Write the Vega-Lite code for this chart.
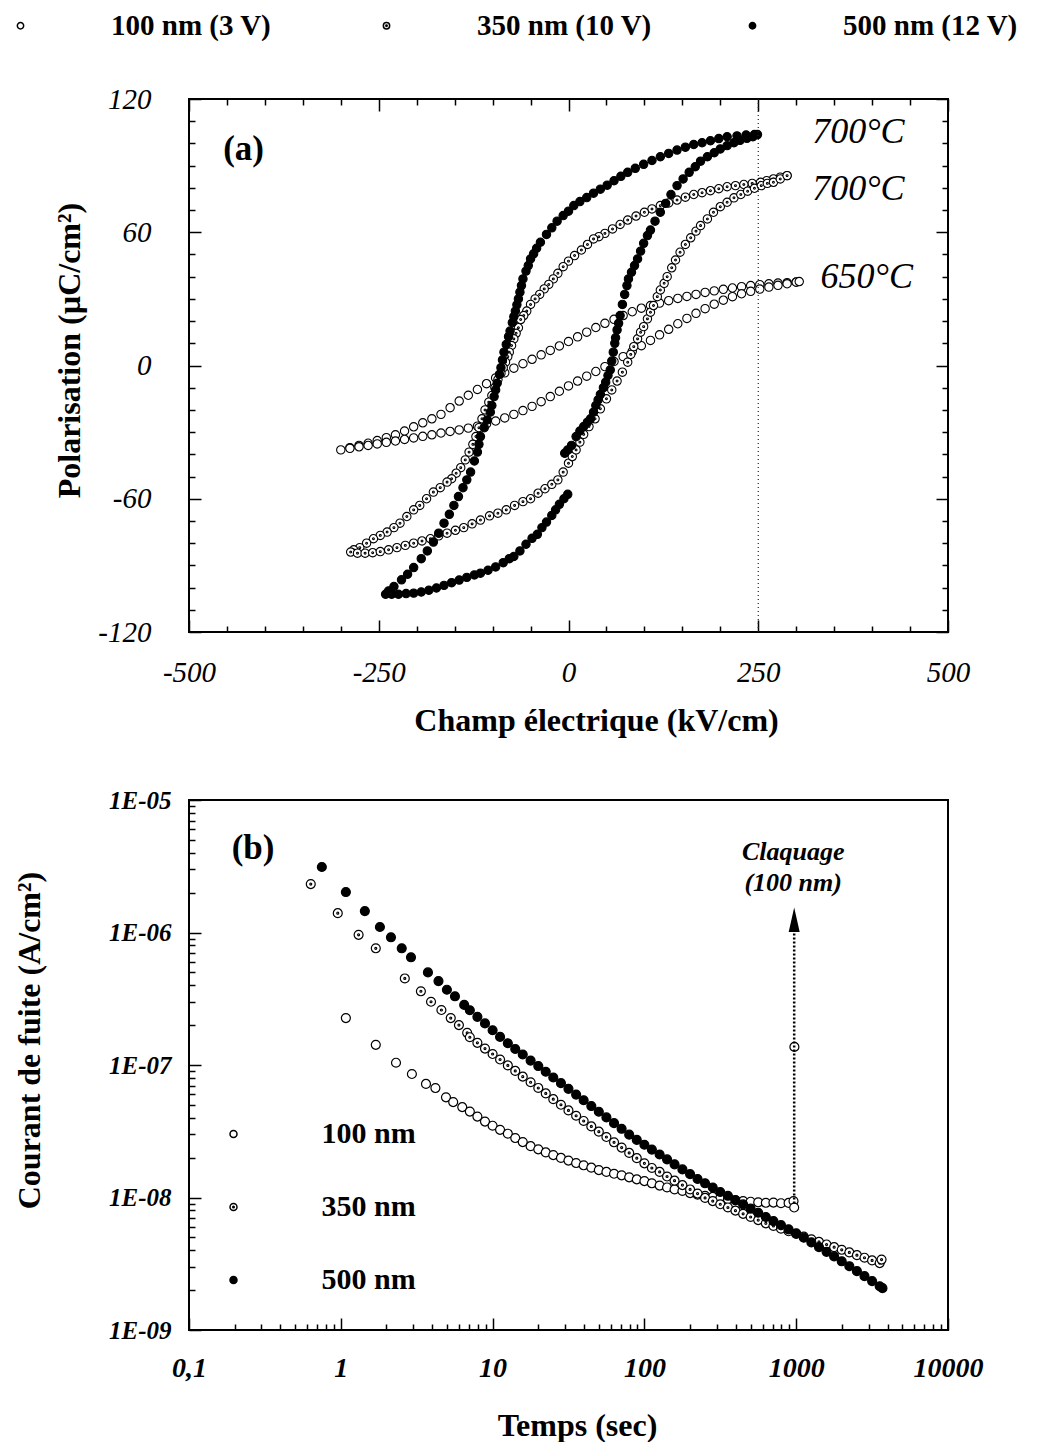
{
  "$schema": "https://vega.github.io/schema/vega-lite/v6.json",
  "background": "white",
  "padding": {"left": 5, "top": 10, "right": 0, "bottom": 0},
  "bounds": "flush",
  "spacing": 168,
  "config": {
    "font": "Liberation Serif",
    "view": {"stroke": "black", "strokeWidth": 2},
    "axis": {"grid": false, "domain": false, "tickColor": "black", "tickWidth": 1.5, "labelColor": "black", "titleColor": "black", "labelFont": "Liberation Serif", "titleFont": "Liberation Serif", "labelFlush": false, "labelOverlap": false}
  },
  "resolve": {"scale": {"fill": "independent", "shape": "independent"}, "legend": {"fill": "independent", "shape": "independent"}},
  "vconcat": [
    {
      "width": 759,
      "height": 533,
      "resolve": {"axis": {"x": "independent", "y": "independent"}},
      "layer": [
        {
          "data": {"values": [
            {"s":"100 nm (3 V)","E":300,"P":37.6},{"s":"100 nm (3 V)","E":288,"P":37.3},{"s":"100 nm (3 V)","E":276,"P":37.1},{"s":"100 nm (3 V)","E":264,"P":36.8},{"s":"100 nm (3 V)","E":252,"P":36.4},{"s":"100 nm (3 V)","E":240,"P":36},{"s":"100 nm (3 V)","E":228,"P":35.5},{"s":"100 nm (3 V)","E":216,"P":34.9},{"s":"100 nm (3 V)","E":204,"P":34.3},{"s":"100 nm (3 V)","E":192,"P":33.6},{"s":"100 nm (3 V)","E":180,"P":32.9},{"s":"100 nm (3 V)","E":168,"P":32},{"s":"100 nm (3 V)","E":156,"P":31.1},{"s":"100 nm (3 V)","E":144,"P":30.2},{"s":"100 nm (3 V)","E":132,"P":29.2},{"s":"100 nm (3 V)","E":120,"P":28.1},{"s":"100 nm (3 V)","E":108,"P":27},{"s":"100 nm (3 V)","E":96,"P":25.8},{"s":"100 nm (3 V)","E":84,"P":24.2},{"s":"100 nm (3 V)","E":72,"P":22.5},{"s":"100 nm (3 V)","E":60,"P":20.8},{"s":"100 nm (3 V)","E":48,"P":19},{"s":"100 nm (3 V)","E":36,"P":17.1},{"s":"100 nm (3 V)","E":24,"P":15},{"s":"100 nm (3 V)","E":12,"P":12.9},{"s":"100 nm (3 V)","E":0,"P":10.8},{"s":"100 nm (3 V)","E":-12,"P":8.8},{"s":"100 nm (3 V)","E":-24,"P":6.8},{"s":"100 nm (3 V)","E":-36,"P":4.8},{"s":"100 nm (3 V)","E":-48,"P":2.8},{"s":"100 nm (3 V)","E":-60,"P":0.8},{"s":"100 nm (3 V)","E":-72,"P":-1.2},{"s":"100 nm (3 V)","E":-84,"P":-3.3},{"s":"100 nm (3 V)","E":-96,"P":-5.6},{"s":"100 nm (3 V)","E":-108,"P":-8.2},{"s":"100 nm (3 V)","E":-120,"P":-10.8},{"s":"100 nm (3 V)","E":-132,"P":-13.4},{"s":"100 nm (3 V)","E":-144,"P":-16},{"s":"100 nm (3 V)","E":-156,"P":-19},{"s":"100 nm (3 V)","E":-168,"P":-22},{"s":"100 nm (3 V)","E":-180,"P":-24},{"s":"100 nm (3 V)","E":-192,"P":-25.8},{"s":"100 nm (3 V)","E":-204,"P":-27.6},{"s":"100 nm (3 V)","E":-216,"P":-29.5},{"s":"100 nm (3 V)","E":-228,"P":-31.2},{"s":"100 nm (3 V)","E":-240,"P":-32.5},{"s":"100 nm (3 V)","E":-252,"P":-33.8},{"s":"100 nm (3 V)","E":-264,"P":-35},{"s":"100 nm (3 V)","E":-276,"P":-36},{"s":"100 nm (3 V)","E":-288,"P":-37},{"s":"100 nm (3 V)","E":-300,"P":-38},
            {"s":"100 nm (3 V)","E":-288,"P":-37.3},{"s":"100 nm (3 V)","E":-276,"P":-36.6},{"s":"100 nm (3 V)","E":-264,"P":-36},{"s":"100 nm (3 V)","E":-252,"P":-35.3},{"s":"100 nm (3 V)","E":-240,"P":-34.6},{"s":"100 nm (3 V)","E":-228,"P":-34},{"s":"100 nm (3 V)","E":-216,"P":-33.3},{"s":"100 nm (3 V)","E":-204,"P":-32.6},{"s":"100 nm (3 V)","E":-192,"P":-31.9},{"s":"100 nm (3 V)","E":-180,"P":-31.2},{"s":"100 nm (3 V)","E":-168,"P":-30.4},{"s":"100 nm (3 V)","E":-156,"P":-29.7},{"s":"100 nm (3 V)","E":-144,"P":-29},{"s":"100 nm (3 V)","E":-132,"P":-28.2},{"s":"100 nm (3 V)","E":-120,"P":-27.3},{"s":"100 nm (3 V)","E":-108,"P":-26.3},{"s":"100 nm (3 V)","E":-96,"P":-25},{"s":"100 nm (3 V)","E":-84,"P":-23.6},{"s":"100 nm (3 V)","E":-72,"P":-22},{"s":"100 nm (3 V)","E":-60,"P":-20.3},{"s":"100 nm (3 V)","E":-48,"P":-18.4},{"s":"100 nm (3 V)","E":-36,"P":-16.3},{"s":"100 nm (3 V)","E":-24,"P":-14},{"s":"100 nm (3 V)","E":-12,"P":-11.6},{"s":"100 nm (3 V)","E":0,"P":-9.2},{"s":"100 nm (3 V)","E":12,"P":-7},{"s":"100 nm (3 V)","E":24,"P":-4.8},{"s":"100 nm (3 V)","E":36,"P":-2.7},{"s":"100 nm (3 V)","E":48,"P":-0.5},{"s":"100 nm (3 V)","E":60,"P":1.8},{"s":"100 nm (3 V)","E":72,"P":4},{"s":"100 nm (3 V)","E":84,"P":6.4},{"s":"100 nm (3 V)","E":96,"P":8.9},{"s":"100 nm (3 V)","E":108,"P":11.3},{"s":"100 nm (3 V)","E":120,"P":13.8},{"s":"100 nm (3 V)","E":132,"P":16.3},{"s":"100 nm (3 V)","E":144,"P":18.8},{"s":"100 nm (3 V)","E":156,"P":21.2},{"s":"100 nm (3 V)","E":168,"P":23.5},{"s":"100 nm (3 V)","E":180,"P":25.6},{"s":"100 nm (3 V)","E":192,"P":27.6},{"s":"100 nm (3 V)","E":204,"P":29.4},{"s":"100 nm (3 V)","E":216,"P":31},{"s":"100 nm (3 V)","E":228,"P":32.3},{"s":"100 nm (3 V)","E":240,"P":33.4},{"s":"100 nm (3 V)","E":252,"P":34.4},{"s":"100 nm (3 V)","E":264,"P":35.3},{"s":"100 nm (3 V)","E":276,"P":36.1},{"s":"100 nm (3 V)","E":288,"P":36.8},{"s":"100 nm (3 V)","E":300,"P":37.5},{"s":"100 nm (3 V)","E":304,"P":37.8},
            {"s":"350 nm (10 V)","E":288,"P":85.5},{"s":"350 nm (10 V)","E":279,"P":84.8},{"s":"350 nm (10 V)","E":270,"P":84},{"s":"350 nm (10 V)","E":261,"P":83.2},{"s":"350 nm (10 V)","E":253,"P":82.5},{"s":"350 nm (10 V)","E":242,"P":82},{"s":"350 nm (10 V)","E":231,"P":81.5},{"s":"350 nm (10 V)","E":220,"P":81},{"s":"350 nm (10 V)","E":209,"P":80.5},{"s":"350 nm (10 V)","E":198,"P":79.6},{"s":"350 nm (10 V)","E":187,"P":78.7},{"s":"350 nm (10 V)","E":176,"P":77.8},{"s":"350 nm (10 V)","E":165,"P":77},{"s":"350 nm (10 V)","E":154,"P":75.8},{"s":"350 nm (10 V)","E":143,"P":74.5},{"s":"350 nm (10 V)","E":132,"P":73.2},{"s":"350 nm (10 V)","E":121,"P":72},{"s":"350 nm (10 V)","E":110,"P":70.5},{"s":"350 nm (10 V)","E":100,"P":69},{"s":"350 nm (10 V)","E":89,"P":67.3},{"s":"350 nm (10 V)","E":78,"P":65.5},{"s":"350 nm (10 V)","E":68,"P":63.5},{"s":"350 nm (10 V)","E":58,"P":61.5},{"s":"350 nm (10 V)","E":48,"P":59.5},{"s":"350 nm (10 V)","E":40,"P":58},{"s":"350 nm (10 V)","E":33,"P":57},{"s":"350 nm (10 V)","E":25,"P":54.5},{"s":"350 nm (10 V)","E":17,"P":52},{"s":"350 nm (10 V)","E":8,"P":49.5},{"s":"350 nm (10 V)","E":0,"P":47},{"s":"350 nm (10 V)","E":-7,"P":44.5},{"s":"350 nm (10 V)","E":-14,"P":41.5},{"s":"350 nm (10 V)","E":-20,"P":39},{"s":"350 nm (10 V)","E":-26,"P":36.5},{"s":"350 nm (10 V)","E":-32,"P":34.5},{"s":"350 nm (10 V)","E":-38,"P":32},{"s":"350 nm (10 V)","E":-44,"P":30},{"s":"350 nm (10 V)","E":-50,"P":27.5},{"s":"350 nm (10 V)","E":-55,"P":24.5},{"s":"350 nm (10 V)","E":-59,"P":22.5},{"s":"350 nm (10 V)","E":-63,"P":20.7},{"s":"350 nm (10 V)","E":-66,"P":17},{"s":"350 nm (10 V)","E":-69,"P":14.5},{"s":"350 nm (10 V)","E":-72,"P":12},{"s":"350 nm (10 V)","E":-75,"P":9},{"s":"350 nm (10 V)","E":-78,"P":6},{"s":"350 nm (10 V)","E":-80,"P":4},{"s":"350 nm (10 V)","E":-83,"P":1.5},{"s":"350 nm (10 V)","E":-86,"P":-1},{"s":"350 nm (10 V)","E":-89,"P":-3.5},{"s":"350 nm (10 V)","E":-93,"P":-6.3},{"s":"350 nm (10 V)","E":-97,"P":-10},{"s":"350 nm (10 V)","E":-101,"P":-13.5},{"s":"350 nm (10 V)","E":-105,"P":-16.5},{"s":"350 nm (10 V)","E":-110,"P":-20},{"s":"350 nm (10 V)","E":-114,"P":-24},{"s":"350 nm (10 V)","E":-118,"P":-28},{"s":"350 nm (10 V)","E":-122,"P":-32},{"s":"350 nm (10 V)","E":-126,"P":-35.5},{"s":"350 nm (10 V)","E":-131,"P":-39},{"s":"350 nm (10 V)","E":-136,"P":-42.5},{"s":"350 nm (10 V)","E":-142,"P":-46},{"s":"350 nm (10 V)","E":-148,"P":-48.5},{"s":"350 nm (10 V)","E":-154,"P":-51},{"s":"350 nm (10 V)","E":-160,"P":-52.5},{"s":"350 nm (10 V)","E":-169,"P":-55},{"s":"350 nm (10 V)","E":-178,"P":-57},{"s":"350 nm (10 V)","E":-187,"P":-60},{"s":"350 nm (10 V)","E":-196,"P":-63},{"s":"350 nm (10 V)","E":-204,"P":-65},{"s":"350 nm (10 V)","E":-213,"P":-68},{"s":"350 nm (10 V)","E":-222,"P":-71},{"s":"350 nm (10 V)","E":-230,"P":-73},{"s":"350 nm (10 V)","E":-239,"P":-75},{"s":"350 nm (10 V)","E":-248,"P":-76.5},{"s":"350 nm (10 V)","E":-257,"P":-78},{"s":"350 nm (10 V)","E":-266,"P":-80},{"s":"350 nm (10 V)","E":-275,"P":-82},{"s":"350 nm (10 V)","E":-283,"P":-83},{"s":"350 nm (10 V)","E":-287,"P":-84},
            {"s":"350 nm (10 V)","E":-278,"P":-84.5},{"s":"350 nm (10 V)","E":-268,"P":-84.5},{"s":"350 nm (10 V)","E":-258,"P":-84.3},{"s":"350 nm (10 V)","E":-248,"P":-83.8},{"s":"350 nm (10 V)","E":-237,"P":-83},{"s":"350 nm (10 V)","E":-226,"P":-82},{"s":"350 nm (10 V)","E":-215,"P":-81},{"s":"350 nm (10 V)","E":-204,"P":-80},{"s":"350 nm (10 V)","E":-193,"P":-79},{"s":"350 nm (10 V)","E":-182,"P":-78},{"s":"350 nm (10 V)","E":-171,"P":-76.7},{"s":"350 nm (10 V)","E":-160,"P":-75.5},{"s":"350 nm (10 V)","E":-149,"P":-74.2},{"s":"350 nm (10 V)","E":-138,"P":-73},{"s":"350 nm (10 V)","E":-127,"P":-71.3},{"s":"350 nm (10 V)","E":-116,"P":-69.6},{"s":"350 nm (10 V)","E":-104,"P":-67.7},{"s":"350 nm (10 V)","E":-93,"P":-66.5},{"s":"350 nm (10 V)","E":-82,"P":-65},{"s":"350 nm (10 V)","E":-71,"P":-63},{"s":"350 nm (10 V)","E":-60,"P":-61.3},{"s":"350 nm (10 V)","E":-50,"P":-60},{"s":"350 nm (10 V)","E":-40,"P":-57.5},{"s":"350 nm (10 V)","E":-31,"P":-55.5},{"s":"350 nm (10 V)","E":-22,"P":-53.5},{"s":"350 nm (10 V)","E":-14,"P":-51.5},{"s":"350 nm (10 V)","E":-7,"P":-48},{"s":"350 nm (10 V)","E":0,"P":-44},{"s":"350 nm (10 V)","E":5,"P":-41},{"s":"350 nm (10 V)","E":10,"P":-38},{"s":"350 nm (10 V)","E":15,"P":-34.5},{"s":"350 nm (10 V)","E":20,"P":-31},{"s":"350 nm (10 V)","E":27,"P":-27.5},{"s":"350 nm (10 V)","E":35,"P":-24},{"s":"350 nm (10 V)","E":42,"P":-19.5},{"s":"350 nm (10 V)","E":50,"P":-15},{"s":"350 nm (10 V)","E":57,"P":-11},{"s":"350 nm (10 V)","E":64,"P":-7},{"s":"350 nm (10 V)","E":71,"P":-3},{"s":"350 nm (10 V)","E":78,"P":1.5},{"s":"350 nm (10 V)","E":82,"P":5},{"s":"350 nm (10 V)","E":86,"P":8.5},{"s":"350 nm (10 V)","E":91,"P":12},{"s":"350 nm (10 V)","E":95,"P":15},{"s":"350 nm (10 V)","E":99,"P":17.5},{"s":"350 nm (10 V)","E":104,"P":21},{"s":"350 nm (10 V)","E":108,"P":24},{"s":"350 nm (10 V)","E":112,"P":27},{"s":"350 nm (10 V)","E":117,"P":31},{"s":"350 nm (10 V)","E":121,"P":34},{"s":"350 nm (10 V)","E":126,"P":37},{"s":"350 nm (10 V)","E":130,"P":40},{"s":"350 nm (10 V)","E":136,"P":44},{"s":"350 nm (10 V)","E":141,"P":47.5},{"s":"350 nm (10 V)","E":147,"P":51},{"s":"350 nm (10 V)","E":154,"P":54.5},{"s":"350 nm (10 V)","E":161,"P":57.5},{"s":"350 nm (10 V)","E":168,"P":60.5},{"s":"350 nm (10 V)","E":174,"P":63},{"s":"350 nm (10 V)","E":183,"P":66},{"s":"350 nm (10 V)","E":191,"P":69},{"s":"350 nm (10 V)","E":200,"P":71.5},{"s":"350 nm (10 V)","E":209,"P":73.5},{"s":"350 nm (10 V)","E":218,"P":75.5},{"s":"350 nm (10 V)","E":227,"P":77},{"s":"350 nm (10 V)","E":236,"P":78.5},{"s":"350 nm (10 V)","E":245,"P":79.8},{"s":"350 nm (10 V)","E":254,"P":81},{"s":"350 nm (10 V)","E":262,"P":82},{"s":"350 nm (10 V)","E":270,"P":82.5},{"s":"350 nm (10 V)","E":279,"P":84},{"s":"350 nm (10 V)","E":288,"P":85.5},
            {"s":"500 nm (12 V)","E":245,"P":104},{"s":"500 nm (12 V)","E":234,"P":103.8},{"s":"500 nm (12 V)","E":222,"P":103.4},{"s":"500 nm (12 V)","E":209,"P":103},{"s":"500 nm (12 V)","E":198,"P":102.2},{"s":"500 nm (12 V)","E":187,"P":101.2},{"s":"500 nm (12 V)","E":176,"P":100.3},{"s":"500 nm (12 V)","E":165,"P":99.5},{"s":"500 nm (12 V)","E":154,"P":98.3},{"s":"500 nm (12 V)","E":143,"P":97},{"s":"500 nm (12 V)","E":132,"P":95.5},{"s":"500 nm (12 V)","E":121,"P":94},{"s":"500 nm (12 V)","E":110,"P":92.3},{"s":"500 nm (12 V)","E":99,"P":90.6},{"s":"500 nm (12 V)","E":88,"P":88.8},{"s":"500 nm (12 V)","E":78,"P":87},{"s":"500 nm (12 V)","E":69,"P":85.2},{"s":"500 nm (12 V)","E":60,"P":83.2},{"s":"500 nm (12 V)","E":51,"P":81.2},{"s":"500 nm (12 V)","E":42,"P":79.4},{"s":"500 nm (12 V)","E":33,"P":77.6},{"s":"500 nm (12 V)","E":24,"P":75.6},{"s":"500 nm (12 V)","E":15,"P":73.8},{"s":"500 nm (12 V)","E":7,"P":72},{"s":"500 nm (12 V)","E":0,"P":69.5},{"s":"500 nm (12 V)","E":-7,"P":67.5},{"s":"500 nm (12 V)","E":-15,"P":65},{"s":"500 nm (12 V)","E":-22,"P":62},{"s":"500 nm (12 V)","E":-29,"P":59},{"s":"500 nm (12 V)","E":-37,"P":55.5},{"s":"500 nm (12 V)","E":-42,"P":52.8},{"s":"500 nm (12 V)","E":-46,"P":50.3},{"s":"500 nm (12 V)","E":-50,"P":48},{"s":"500 nm (12 V)","E":-53,"P":45},{"s":"500 nm (12 V)","E":-56,"P":42.5},{"s":"500 nm (12 V)","E":-60,"P":39},{"s":"500 nm (12 V)","E":-62,"P":36},{"s":"500 nm (12 V)","E":-64,"P":33},{"s":"500 nm (12 V)","E":-66,"P":30},{"s":"500 nm (12 V)","E":-68,"P":27.3},{"s":"500 nm (12 V)","E":-70,"P":24.5},{"s":"500 nm (12 V)","E":-72,"P":22},{"s":"500 nm (12 V)","E":-74,"P":19.3},{"s":"500 nm (12 V)","E":-77,"P":15.5},{"s":"500 nm (12 V)","E":-79,"P":13},{"s":"500 nm (12 V)","E":-82,"P":9.5},{"s":"500 nm (12 V)","E":-85,"P":6},{"s":"500 nm (12 V)","E":-87,"P":2.5},{"s":"500 nm (12 V)","E":-89,"P":-1},{"s":"500 nm (12 V)","E":-91,"P":-4},{"s":"500 nm (12 V)","E":-94,"P":-8},{"s":"500 nm (12 V)","E":-96,"P":-11},{"s":"500 nm (12 V)","E":-98,"P":-14},{"s":"500 nm (12 V)","E":-101,"P":-18},{"s":"500 nm (12 V)","E":-103,"P":-21},{"s":"500 nm (12 V)","E":-107,"P":-24.5},{"s":"500 nm (12 V)","E":-111,"P":-28},{"s":"500 nm (12 V)","E":-116,"P":-32},{"s":"500 nm (12 V)","E":-118,"P":-35.5},{"s":"500 nm (12 V)","E":-120,"P":-39},{"s":"500 nm (12 V)","E":-124,"P":-43},{"s":"500 nm (12 V)","E":-129,"P":-48},{"s":"500 nm (12 V)","E":-134,"P":-51.5},{"s":"500 nm (12 V)","E":-139,"P":-55},{"s":"500 nm (12 V)","E":-145,"P":-59},{"s":"500 nm (12 V)","E":-151,"P":-63},{"s":"500 nm (12 V)","E":-157,"P":-67},{"s":"500 nm (12 V)","E":-164,"P":-71},{"s":"500 nm (12 V)","E":-171,"P":-75.5},{"s":"500 nm (12 V)","E":-178,"P":-79.5},{"s":"500 nm (12 V)","E":-186,"P":-83.5},{"s":"500 nm (12 V)","E":-194,"P":-87},{"s":"500 nm (12 V)","E":-204,"P":-91},{"s":"500 nm (12 V)","E":-212,"P":-94},{"s":"500 nm (12 V)","E":-220,"P":-96.5},{"s":"500 nm (12 V)","E":-230,"P":-99.5},{"s":"500 nm (12 V)","E":-237,"P":-101.5},{"s":"500 nm (12 V)","E":-241,"P":-103},
            {"s":"500 nm (12 V)","E":-233,"P":-103},{"s":"500 nm (12 V)","E":-224,"P":-103},{"s":"500 nm (12 V)","E":-214,"P":-102.7},{"s":"500 nm (12 V)","E":-204,"P":-102.5},{"s":"500 nm (12 V)","E":-194,"P":-102},{"s":"500 nm (12 V)","E":-184,"P":-101.2},{"s":"500 nm (12 V)","E":-174,"P":-100.2},{"s":"500 nm (12 V)","E":-164,"P":-99},{"s":"500 nm (12 V)","E":-154,"P":-97.8},{"s":"500 nm (12 V)","E":-144,"P":-96.6},{"s":"500 nm (12 V)","E":-134,"P":-95.4},{"s":"500 nm (12 V)","E":-124,"P":-94.3},{"s":"500 nm (12 V)","E":-116,"P":-93.5},{"s":"500 nm (12 V)","E":-106,"P":-92.2},{"s":"500 nm (12 V)","E":-96,"P":-90.7},{"s":"500 nm (12 V)","E":-86,"P":-88.8},{"s":"500 nm (12 V)","E":-78,"P":-87},{"s":"500 nm (12 V)","E":-72,"P":-86},{"s":"500 nm (12 V)","E":-64,"P":-83.5},{"s":"500 nm (12 V)","E":-56,"P":-80.5},{"s":"500 nm (12 V)","E":-48,"P":-77.8},{"s":"500 nm (12 V)","E":-41,"P":-76},{"s":"500 nm (12 V)","E":-35,"P":-73},{"s":"500 nm (12 V)","E":-29,"P":-70.5},{"s":"500 nm (12 V)","E":-22,"P":-67.5},{"s":"500 nm (12 V)","E":-17,"P":-65},{"s":"500 nm (12 V)","E":-12,"P":-62.5},{"s":"500 nm (12 V)","E":-6,"P":-60},{"s":"500 nm (12 V)","E":-1,"P":-58},
            {"s":"500 nm (12 V)","E":-5,"P":-39.5},{"s":"500 nm (12 V)","E":-1,"P":-38},{"s":"500 nm (12 V)","E":4,"P":-36},{"s":"500 nm (12 V)","E":10,"P":-32},{"s":"500 nm (12 V)","E":15,"P":-29.5},{"s":"500 nm (12 V)","E":20,"P":-27.5},{"s":"500 nm (12 V)","E":25,"P":-25.5},{"s":"500 nm (12 V)","E":29,"P":-24},{"s":"500 nm (12 V)","E":33,"P":-21},{"s":"500 nm (12 V)","E":36,"P":-18},{"s":"500 nm (12 V)","E":39,"P":-15.5},{"s":"500 nm (12 V)","E":42,"P":-13},{"s":"500 nm (12 V)","E":46,"P":-10},{"s":"500 nm (12 V)","E":49,"P":-7.5},{"s":"500 nm (12 V)","E":52,"P":-4.5},{"s":"500 nm (12 V)","E":55,"P":-2},{"s":"500 nm (12 V)","E":57,"P":2},{"s":"500 nm (12 V)","E":59,"P":6},{"s":"500 nm (12 V)","E":61,"P":10},{"s":"500 nm (12 V)","E":62,"P":12.5},{"s":"500 nm (12 V)","E":64,"P":16},{"s":"500 nm (12 V)","E":66,"P":19},{"s":"500 nm (12 V)","E":68,"P":22.5},{"s":"500 nm (12 V)","E":71,"P":27.5},{"s":"500 nm (12 V)","E":74,"P":32},{"s":"500 nm (12 V)","E":77,"P":36},{"s":"500 nm (12 V)","E":79,"P":39},{"s":"500 nm (12 V)","E":83,"P":42},{"s":"500 nm (12 V)","E":87,"P":45},{"s":"500 nm (12 V)","E":91,"P":48},{"s":"500 nm (12 V)","E":95,"P":51.5},{"s":"500 nm (12 V)","E":99,"P":55},{"s":"500 nm (12 V)","E":104,"P":58.5},{"s":"500 nm (12 V)","E":108,"P":61},{"s":"500 nm (12 V)","E":114,"P":65},{"s":"500 nm (12 V)","E":121,"P":69},{"s":"500 nm (12 V)","E":128,"P":73},{"s":"500 nm (12 V)","E":135,"P":77},{"s":"500 nm (12 V)","E":143,"P":81},{"s":"500 nm (12 V)","E":151,"P":84},{"s":"500 nm (12 V)","E":159,"P":87},{"s":"500 nm (12 V)","E":167,"P":89.5},{"s":"500 nm (12 V)","E":174,"P":92},{"s":"500 nm (12 V)","E":183,"P":94},{"s":"500 nm (12 V)","E":192,"P":95.8},{"s":"500 nm (12 V)","E":200,"P":97.5},{"s":"500 nm (12 V)","E":209,"P":99},{"s":"500 nm (12 V)","E":218,"P":100.3},{"s":"500 nm (12 V)","E":226,"P":101.4},{"s":"500 nm (12 V)","E":235,"P":102.3},{"s":"500 nm (12 V)","E":243,"P":103},{"s":"500 nm (12 V)","E":249,"P":104}
          ]},
          "mark": {"type": "point", "size": 70, "filled": true, "stroke": "black", "strokeWidth": 1.1, "opacity": 1, "clip": false},
          "encoding": {
            "x": {"field": "E", "type": "quantitative", "scale": {"domain": [-500, 500], "nice": false, "zero": false},
              "axis": {"orient": "bottom", "values": [-500, -250, 0, 250, 500], "tickSize": -12, "labelFontSize": 29, "labelFontStyle": "italic", "labelPadding": 52, "labelBaseline": "middle", "labelExpr": "datum.value < 0 ? '-' + abs(datum.value) : '' + datum.value", "title": "Champ électrique (kV/cm)", "titleFontSize": 32, "titleFontWeight": "bold", "titleX": 407, "titleY": 88, "titleBaseline": "middle"}},
            "y": {"field": "P", "type": "quantitative", "scale": {"domain": [-120, 120], "nice": false, "zero": false},
              "axis": {"orient": "left", "values": [-120, -60, 0, 60, 120], "tickSize": -12, "labelFontSize": 29, "labelFontStyle": "italic", "labelPadding": 50, "labelAlign": "right", "labelBaseline": "middle", "labelExpr": "datum.value < 0 ? '-' + abs(datum.value) : '' + datum.value", "title": "Polarisation (µC/cm²)", "titleFontSize": 32, "titleFontWeight": "bold", "titleX": -120, "titleY": 251, "titleBaseline": "middle", "titleAngle": -90}},
            "fill": {"field": "s", "type": "nominal", "scale": {"domain": ["100 nm (3 V)", "350 nm (10 V)", "500 nm (12 V)"], "range": ["white", "white", "black"]},
              "legend": {"orient": "none", "legendX": -183, "legendY": -88, "direction": "horizontal", "columns": 3, "gridAlign": "all", "title": null, "labelFont": "Liberation Serif", "labelFontSize": 29, "labelFontWeight": "bold", "labelColor": "black", "labelOffset": 76, "columnPadding": 86, "symbolSize": 40, "labelLimit": 500, "encode": {"symbols": {"update": {"stroke": {"value": "black"}, "strokeWidth": {"value": 1.1}, "opacity": {"value": 1}}}}}},
            "shape": {"field": "s", "type": "nominal", "scale": {"domain": ["100 nm (3 V)", "350 nm (10 V)", "500 nm (12 V)"], "range": ["circle", "M-1,0A1,1,0,1,1,1,0A1,1,0,1,1,-1,0ZM-0.22,0A0.22,0.22,0,1,1,0.22,0A0.22,0.22,0,1,1,-0.22,0Z", "circle"]},
              "legend": {"orient": "none", "legendX": -183, "legendY": -88, "direction": "horizontal", "columns": 3, "gridAlign": "all", "title": null, "labelFont": "Liberation Serif", "labelFontSize": 29, "labelFontWeight": "bold", "labelColor": "black", "labelOffset": 76, "columnPadding": 86, "symbolSize": 40, "labelLimit": 500, "encode": {"symbols": {"update": {"stroke": {"value": "black"}, "strokeWidth": {"value": 1.1}, "opacity": {"value": 1}}}}}}
          }
        },
        {
          "data": {"values": [{"E": 250, "P1": -120, "P2": 120}]},
          "mark": {"type": "rule", "strokeDash": [1, 3], "strokeWidth": 1.2, "color": "#222"},
          "encoding": {
            "x": {"field": "E", "type": "quantitative", "scale": {"domain": [-500, 500], "nice": false, "zero": false},
              "axis": {"orient": "top", "values": [-450, -400, -350, -300, -200, -150, -100, -50, 50, 100, 150, 200, 300, 350, 400, 450], "tickSize": -6, "labels": false, "title": null}},
            "y": {"field": "P1", "type": "quantitative", "scale": {"domain": [-120, 120], "nice": false, "zero": false},
              "axis": {"orient": "right", "values": [-110, -100, -90, -80, -70, -50, -40, -30, -20, -10, 10, 20, 30, 40, 50, 70, 80, 90, 100, 110], "tickSize": -6, "labels": false, "title": null}},
            "y2": {"field": "P2"}
          }
        },
        {
          "data": {"values": [{"E": 321, "P": 105, "label": "700°C"}, {"E": 321, "P": 79.4, "label": "700°C"}, {"E": 332, "P": 39.7, "label": "650°C"}]},
          "mark": {"type": "text", "font": "Liberation Serif", "fontStyle": "italic", "fontSize": 36, "align": "left", "baseline": "middle", "color": "black"},
          "encoding": {
            "x": {"field": "E", "type": "quantitative", "scale": {"domain": [-500, 500], "nice": false, "zero": false},
              "axis": {"orient": "top", "values": [-500, -250, 0, 250, 500], "tickSize": -12, "labels": false, "title": null}},
            "y": {"field": "P", "type": "quantitative", "scale": {"domain": [-120, 120], "nice": false, "zero": false},
              "axis": {"orient": "right", "values": [-120, -60, 0, 60, 120], "tickSize": -12, "labels": false, "title": null}},
            "text": {"field": "label"}
          }
        },
        {
          "data": {"values": [{"E": -455, "P": 97.4, "label": "(a)"}]},
          "mark": {"type": "text", "font": "Liberation Serif", "fontWeight": "bold", "fontSize": 35, "align": "left", "baseline": "middle", "color": "black"},
          "encoding": {
            "x": {"field": "E", "type": "quantitative", "scale": {"domain": [-500, 500], "nice": false, "zero": false},
              "axis": {"orient": "bottom", "values": [-450, -400, -350, -300, -200, -150, -100, -50, 50, 100, 150, 200, 300, 350, 400, 450], "tickSize": -6, "labels": false, "title": null}},
            "y": {"field": "P", "type": "quantitative", "scale": {"domain": [-120, 120], "nice": false, "zero": false},
              "axis": {"orient": "left", "values": [-110, -100, -90, -80, -70, -50, -40, -30, -20, -10, 10, 20, 30, 40, 50, 70, 80, 90, 100, 110], "tickSize": -6, "labels": false, "title": null}},
            "text": {"field": "label"}
          }
        }
      ]
    },
    {
      "width": 759,
      "height": 530,
      "resolve": {"axis": {"x": "independent", "y": "independent"}},
      "layer": [
        {
          "data": {"values": [
            {"s":"100 nm","t":1.08,"J":2.26e-7},{"s":"100 nm","t":1.70,"J":1.42e-7},{"s":"100 nm","t":2.31,"J":1.04e-7},{"s":"100 nm","t":2.94,"J":8.55e-8},{"s":"100 nm","t":3.64,"J":7.2e-8},{"s":"100 nm","t":4.2,"J":6.7e-8},{"s":"100 nm","t":4.93,"J":5.7e-8},{"s":"100 nm","t":5.5,"J":5.25e-8},{"s":"100 nm","t":6.31,"J":4.81e-8},{"s":"100 nm","t":7.08,"J":4.45e-8},{"s":"100 nm","t":7.94,"J":4.08e-8},{"s":"100 nm","t":8.91,"J":3.74e-8},{"s":"100 nm","t":10,"J":3.48e-8},{"s":"100 nm","t":11.2,"J":3.24e-8},{"s":"100 nm","t":12.6,"J":3.03e-8},{"s":"100 nm","t":14.1,"J":2.81e-8},{"s":"100 nm","t":15.8,"J":2.62e-8},{"s":"100 nm","t":17.8,"J":2.44e-8},{"s":"100 nm","t":20,"J":2.31e-8},{"s":"100 nm","t":22.4,"J":2.19e-8},{"s":"100 nm","t":25.1,"J":2.09e-8},{"s":"100 nm","t":28.2,"J":1.99e-8},{"s":"100 nm","t":31.6,"J":1.90e-8},{"s":"100 nm","t":35.5,"J":1.82e-8},{"s":"100 nm","t":39.8,"J":1.75e-8},{"s":"100 nm","t":44.7,"J":1.68e-8},{"s":"100 nm","t":50.1,"J":1.61e-8},{"s":"100 nm","t":56.2,"J":1.56e-8},{"s":"100 nm","t":63.1,"J":1.51e-8},{"s":"100 nm","t":70.8,"J":1.47e-8},{"s":"100 nm","t":79.4,"J":1.42e-8},{"s":"100 nm","t":89.1,"J":1.37e-8},{"s":"100 nm","t":100,"J":1.33e-8},{"s":"100 nm","t":112,"J":1.28e-8},{"s":"100 nm","t":126,"J":1.23e-8},{"s":"100 nm","t":141,"J":1.19e-8},{"s":"100 nm","t":158,"J":1.15e-8},{"s":"100 nm","t":178,"J":1.12e-8},{"s":"100 nm","t":200,"J":1.08e-8},{"s":"100 nm","t":224,"J":1.05e-8},{"s":"100 nm","t":251,"J":1.03e-8},{"s":"100 nm","t":282,"J":1.01e-8},{"s":"100 nm","t":316,"J":9.89e-9},{"s":"100 nm","t":355,"J":9.68e-9},{"s":"100 nm","t":398,"J":9.53e-9},{"s":"100 nm","t":447,"J":9.40e-9},{"s":"100 nm","t":501,"J":9.29e-9},{"s":"100 nm","t":562,"J":9.20e-9},{"s":"100 nm","t":631,"J":9.12e-9},{"s":"100 nm","t":708,"J":9.15e-9},{"s":"100 nm","t":794,"J":9.05e-9},{"s":"100 nm","t":891,"J":9.1e-9},{"s":"100 nm","t":960,"J":9.4e-9},{"s":"100 nm","t":970,"J":8.4e-9},{"s":"100 nm","t":973,"J":1.37e-7},
            {"s":"350 nm","t":0.634,"J":2.32e-6},{"s":"350 nm","t":0.955,"J":1.40e-6},{"s":"350 nm","t":1.31,"J":9.6e-7},{"s":"350 nm","t":1.70,"J":7.6e-7},{"s":"350 nm","t":2.64,"J":4.5e-7},{"s":"350 nm","t":3.37,"J":3.6e-7},{"s":"350 nm","t":3.93,"J":3.0e-7},{"s":"350 nm","t":4.6,"J":2.6e-7},{"s":"350 nm","t":5.3,"J":2.26e-7},{"s":"350 nm","t":6.0,"J":2.0e-7},{"s":"350 nm","t":6.8,"J":1.75e-7},{"s":"350 nm","t":7.08,"J":1.62e-7},{"s":"350 nm","t":7.94,"J":1.47e-7},{"s":"350 nm","t":8.91,"J":1.33e-7},{"s":"350 nm","t":10,"J":1.21e-7},{"s":"350 nm","t":11.2,"J":1.10e-7},{"s":"350 nm","t":12.6,"J":9.93e-8},{"s":"350 nm","t":14.1,"J":9.02e-8},{"s":"350 nm","t":15.8,"J":8.17e-8},{"s":"350 nm","t":17.8,"J":7.41e-8},{"s":"350 nm","t":20,"J":6.71e-8},{"s":"350 nm","t":22.4,"J":6.10e-8},{"s":"350 nm","t":25.1,"J":5.52e-8},{"s":"350 nm","t":28.2,"J":5.01e-8},{"s":"350 nm","t":31.6,"J":4.54e-8},{"s":"350 nm","t":35.5,"J":4.14e-8},{"s":"350 nm","t":39.8,"J":3.78e-8},{"s":"350 nm","t":44.7,"J":3.44e-8},{"s":"350 nm","t":50.1,"J":3.14e-8},{"s":"350 nm","t":56.2,"J":2.86e-8},{"s":"350 nm","t":63.1,"J":2.61e-8},{"s":"350 nm","t":70.8,"J":2.38e-8},{"s":"350 nm","t":79.4,"J":2.17e-8},{"s":"350 nm","t":89.1,"J":1.98e-8},{"s":"350 nm","t":100,"J":1.81e-8},{"s":"350 nm","t":112,"J":1.67e-8},{"s":"350 nm","t":126,"J":1.56e-8},{"s":"350 nm","t":141,"J":1.44e-8},{"s":"350 nm","t":158,"J":1.34e-8},{"s":"350 nm","t":178,"J":1.24e-8},{"s":"350 nm","t":200,"J":1.15e-8},{"s":"350 nm","t":224,"J":1.07e-8},{"s":"350 nm","t":251,"J":9.93e-9},{"s":"350 nm","t":282,"J":9.40e-9},{"s":"350 nm","t":316,"J":8.89e-9},{"s":"350 nm","t":355,"J":8.41e-9},{"s":"350 nm","t":398,"J":7.96e-9},{"s":"350 nm","t":447,"J":7.53e-9},{"s":"350 nm","t":501,"J":7.13e-9},{"s":"350 nm","t":562,"J":6.75e-9},{"s":"350 nm","t":631,"J":6.38e-9},{"s":"350 nm","t":708,"J":6.10e-9},{"s":"350 nm","t":794,"J":5.82e-9},{"s":"350 nm","t":891,"J":5.56e-9},{"s":"350 nm","t":1000,"J":5.31e-9},{"s":"350 nm","t":1122,"J":5.07e-9},{"s":"350 nm","t":1259,"J":4.84e-9},{"s":"350 nm","t":1413,"J":4.62e-9},{"s":"350 nm","t":1585,"J":4.42e-9},{"s":"350 nm","t":1778,"J":4.22e-9},{"s":"350 nm","t":1995,"J":4.03e-9},{"s":"350 nm","t":2239,"J":3.85e-9},{"s":"350 nm","t":2512,"J":3.67e-9},{"s":"350 nm","t":2818,"J":3.51e-9},{"s":"350 nm","t":3162,"J":3.35e-9},{"s":"350 nm","t":3548,"J":3.20e-9},{"s":"350 nm","t":3650,"J":3.4e-9},
            {"s":"500 nm","t":0.75,"J":3.12e-6},{"s":"500 nm","t":1.08,"J":2.02e-6},{"s":"500 nm","t":1.44,"J":1.45e-6},{"s":"500 nm","t":1.81,"J":1.10e-6},{"s":"500 nm","t":2.14,"J":9.2e-7},{"s":"500 nm","t":2.52,"J":7.6e-7},{"s":"500 nm","t":2.9,"J":6.5e-7},{"s":"500 nm","t":3.75,"J":5.0e-7},{"s":"500 nm","t":4.4,"J":4.3e-7},{"s":"500 nm","t":5.0,"J":3.7e-7},{"s":"500 nm","t":5.65,"J":3.3e-7},{"s":"500 nm","t":6.5,"J":2.84e-7},{"s":"500 nm","t":7.08,"J":2.59e-7},{"s":"500 nm","t":7.94,"J":2.31e-7},{"s":"500 nm","t":8.91,"J":2.06e-7},{"s":"500 nm","t":10,"J":1.83e-7},{"s":"500 nm","t":11.2,"J":1.63e-7},{"s":"500 nm","t":12.6,"J":1.46e-7},{"s":"500 nm","t":14.1,"J":1.32e-7},{"s":"500 nm","t":15.8,"J":1.20e-7},{"s":"500 nm","t":17.8,"J":1.08e-7},{"s":"500 nm","t":20,"J":9.82e-8},{"s":"500 nm","t":22.4,"J":8.89e-8},{"s":"500 nm","t":25.1,"J":8.05e-8},{"s":"500 nm","t":28.2,"J":7.29e-8},{"s":"500 nm","t":31.6,"J":6.61e-8},{"s":"500 nm","t":35.5,"J":5.98e-8},{"s":"500 nm","t":39.8,"J":5.42e-8},{"s":"500 nm","t":44.7,"J":4.90e-8},{"s":"500 nm","t":50.1,"J":4.44e-8},{"s":"500 nm","t":56.2,"J":4.02e-8},{"s":"500 nm","t":63.1,"J":3.64e-8},{"s":"500 nm","t":70.8,"J":3.30e-8},{"s":"500 nm","t":79.4,"J":2.98e-8},{"s":"500 nm","t":89.1,"J":2.72e-8},{"s":"500 nm","t":100,"J":2.50e-8},{"s":"500 nm","t":112,"J":2.30e-8},{"s":"500 nm","t":126,"J":2.11e-8},{"s":"500 nm","t":141,"J":1.94e-8},{"s":"500 nm","t":158,"J":1.78e-8},{"s":"500 nm","t":178,"J":1.63e-8},{"s":"500 nm","t":200,"J":1.50e-8},{"s":"500 nm","t":224,"J":1.38e-8},{"s":"500 nm","t":251,"J":1.28e-8},{"s":"500 nm","t":282,"J":1.19e-8},{"s":"500 nm","t":316,"J":1.10e-8},{"s":"500 nm","t":355,"J":1.03e-8},{"s":"500 nm","t":398,"J":9.55e-9},{"s":"500 nm","t":447,"J":8.87e-9},{"s":"500 nm","t":501,"J":8.24e-9},{"s":"500 nm","t":562,"J":7.67e-9},{"s":"500 nm","t":631,"J":7.13e-9},{"s":"500 nm","t":708,"J":6.64e-9},{"s":"500 nm","t":794,"J":6.18e-9},{"s":"500 nm","t":891,"J":5.75e-9},{"s":"500 nm","t":1000,"J":5.36e-9},{"s":"500 nm","t":1122,"J":4.97e-9},{"s":"500 nm","t":1259,"J":4.58e-9},{"s":"500 nm","t":1413,"J":4.22e-9},{"s":"500 nm","t":1585,"J":3.89e-9},{"s":"500 nm","t":1778,"J":3.59e-9},{"s":"500 nm","t":1995,"J":3.30e-9},{"s":"500 nm","t":2239,"J":3.03e-9},{"s":"500 nm","t":2512,"J":2.78e-9},{"s":"500 nm","t":2818,"J":2.55e-9},{"s":"500 nm","t":3162,"J":2.34e-9},{"s":"500 nm","t":3548,"J":2.14e-9},{"s":"500 nm","t":3700,"J":2.07e-9}
          ]},
          "mark": {"type": "point", "size": 80, "filled": true, "stroke": "black", "strokeWidth": 1.2, "opacity": 1, "clip": false},
          "encoding": {
            "x": {"field": "t", "type": "quantitative", "scale": {"type": "log", "domain": [0.1, 10000], "nice": false},
              "axis": {"orient": "bottom", "values": [0.1, 1, 10, 100, 1000, 10000], "tickSize": -12, "labelFontSize": 28, "labelFontStyle": "italic", "labelFontWeight": "bold", "labelPadding": 50, "labelBaseline": "middle", "labelExpr": "datum.value < 0.5 ? '0,1' : '' + round(datum.value)", "title": "Temps (sec)", "titleFontSize": 32, "titleFontWeight": "bold", "titleX": 388, "titleY": 95, "titleBaseline": "middle"}},
            "y": {"field": "J", "type": "quantitative", "scale": {"type": "log", "domain": [1e-9, 1e-5], "nice": false},
              "axis": {"orient": "left", "values": [1e-9, 1e-8, 1e-7, 1e-6, 1e-5], "tickSize": -12, "labelFontSize": 25, "labelFontStyle": "italic", "labelFontWeight": "bold", "labelPadding": 30, "labelAlign": "right", "labelBaseline": "middle", "labelExpr": "'1E-0' + round(-log(datum.value) / LN10)", "title": "Courant de fuite (A/cm²)", "titleFontSize": 32, "titleFontWeight": "bold", "titleX": -160, "titleY": 240, "titleBaseline": "middle", "titleAngle": -90}},
            "fill": {"field": "s", "type": "nominal", "scale": {"domain": ["100 nm", "350 nm", "500 nm"], "range": ["white", "white", "black"]},
              "legend": {"orient": "none", "legendX": 29.5, "legendY": 319, "direction": "vertical", "title": null, "labelFont": "Liberation Serif", "labelFontSize": 30, "labelFontWeight": "bold", "labelColor": "black", "labelOffset": 73, "rowPadding": 43, "symbolSize": 49, "labelLimit": 500, "encode": {"symbols": {"update": {"stroke": {"value": "black"}, "strokeWidth": {"value": 1.2}, "opacity": {"value": 1}}}}}},
            "shape": {"field": "s", "type": "nominal", "scale": {"domain": ["100 nm", "350 nm", "500 nm"], "range": ["circle", "M-1,0A1,1,0,1,1,1,0A1,1,0,1,1,-1,0ZM-0.22,0A0.22,0.22,0,1,1,0.22,0A0.22,0.22,0,1,1,-0.22,0Z", "circle"]},
              "legend": {"orient": "none", "legendX": 29.5, "legendY": 319, "direction": "vertical", "title": null, "labelFont": "Liberation Serif", "labelFontSize": 30, "labelFontWeight": "bold", "labelColor": "black", "labelOffset": 73, "rowPadding": 43, "symbolSize": 49, "labelLimit": 500, "encode": {"symbols": {"update": {"stroke": {"value": "black"}, "strokeWidth": {"value": 1.2}, "opacity": {"value": 1}}}}}}
          }
        },
        {
          "data": {"values": [{"t": 970, "J1": 9.0e-9, "J2": 1.1e-6}]},
          "mark": {"type": "rule", "strokeDash": [2, 2], "strokeWidth": 2.5, "color": "black"},
          "encoding": {
            "x": {"field": "t", "type": "quantitative", "scale": {"type": "log", "domain": [0.1, 10000], "nice": false},
              "axis": {"orient": "bottom", "values": [0.2, 0.3, 0.4, 0.5, 0.6, 0.7, 0.8, 0.9, 2, 3, 4, 5, 6, 7, 8, 9, 20, 30, 40, 50, 60, 70, 80, 90, 200, 300, 400, 500, 600, 700, 800, 900, 2000, 3000, 4000, 5000, 6000, 7000, 8000, 9000], "tickSize": -6, "labels": false, "title": null}},
            "y": {"field": "J1", "type": "quantitative", "scale": {"type": "log", "domain": [1e-9, 1e-5], "nice": false},
              "axis": {"orient": "left", "values": [2e-9, 3e-9, 4e-9, 5e-9, 6e-9, 7e-9, 8e-9, 9e-9, 2e-8, 3e-8, 4e-8, 5e-8, 6e-8, 7e-8, 8e-8, 9e-8, 2e-7, 3e-7, 4e-7, 5e-7, 6e-7, 7e-7, 8e-7, 9e-7, 2e-6, 3e-6, 4e-6, 5e-6, 6e-6, 7e-6, 8e-6, 9e-6], "tickSize": -6, "labels": false, "title": null}},
            "y2": {"field": "J2"}
          }
        },
        {
          "data": {"values": [{"t": 970, "J": 1.25e-6}]},
          "mark": {"type": "point", "shape": "M0,-1L0.45,1L-0.45,1Z", "size": 600, "filled": true, "color": "black", "opacity": 1},
          "encoding": {
            "x": {"field": "t", "type": "quantitative", "scale": {"type": "log", "domain": [0.1, 10000], "nice": false}, "axis": null},
            "y": {"field": "J", "type": "quantitative", "scale": {"type": "log", "domain": [1e-9, 1e-5], "nice": false}, "axis": null}
          }
        },
        {
          "data": {"values": [{"t": 955, "J": 4.06e-6, "label": "Claquage"}, {"t": 955, "J": 2.37e-6, "label": "(100 nm)"}]},
          "mark": {"type": "text", "font": "Liberation Serif", "fontStyle": "italic", "fontWeight": "bold", "fontSize": 26, "align": "center", "baseline": "middle", "color": "black"},
          "encoding": {
            "x": {"field": "t", "type": "quantitative", "scale": {"type": "log", "domain": [0.1, 10000], "nice": false}, "axis": null},
            "y": {"field": "J", "type": "quantitative", "scale": {"type": "log", "domain": [1e-9, 1e-5], "nice": false}, "axis": null},
            "text": {"field": "label"}
          }
        },
        {
          "data": {"values": [{"t": 0.191, "J": 4.35e-6, "label": "(b)"}]},
          "mark": {"type": "text", "font": "Liberation Serif", "fontWeight": "bold", "fontSize": 35, "align": "left", "baseline": "middle", "color": "black"},
          "encoding": {
            "x": {"field": "t", "type": "quantitative", "scale": {"type": "log", "domain": [0.1, 10000], "nice": false}, "axis": null},
            "y": {"field": "J", "type": "quantitative", "scale": {"type": "log", "domain": [1e-9, 1e-5], "nice": false}, "axis": null},
            "text": {"field": "label"}
          }
        }
      ]
    }
  ]
}
